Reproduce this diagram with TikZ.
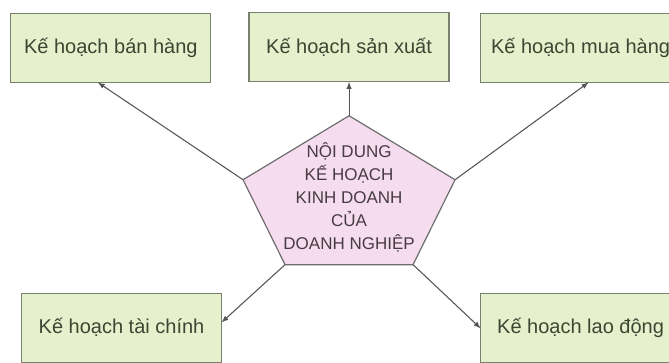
\documentclass[tikz,border=0pt]{standalone}
\usepackage{fontspec}
\setmainfont{Liberation Sans}
\usetikzlibrary{matrix,backgrounds}
\definecolor{planfill}{RGB}{230,240,205}
\definecolor{planline}{RGB}{120,128,110}
\definecolor{planink}{RGB}{60,70,50}
\definecolor{corefill}{RGB}{245,220,238}
\definecolor{coreline}{RGB}{110,110,110}
\definecolor{coreink}{RGB}{72,60,68}
\definecolor{arrowink}{RGB}{85,85,85}
\tikzset{
  plan/.style={draw=planline, line width=0.9pt, fill=planfill, text=planink,
    minimum width=150pt, minimum height=51.75pt, inner sep=0pt, outer sep=0pt,
    font=\fontsize{15}{18}\selectfont},
  core/.style={inner sep=0pt, text=coreink,
    font=\fontsize{12.75}{17.25}\selectfont},
}
\begin{document}
\begin{tikzpicture}[x=0.75pt, y=-0.75pt]
  \path[use as bounding box, clip] (0,0) rectangle (669,362);
  \matrix (m) [matrix of nodes, anchor=north west, inner sep=0pt,
    column sep=27.75pt, row sep=44pt] at (10,12)
  {
    |[plan]| Kế hoạch bán hàng &[-8pt] |[plan]| Kế hoạch sản xuất &[-5pt] |[plan]| Kế hoạch mua hàng \\
    & |[core]| \begin{tabular}{@{}c@{}}NỘI DUNG\\KẾ HOẠCH\\KINH DOANH\\CỦA\\DOANH NGHIỆP\end{tabular} & \\[-17pt]
    |[plan, xshift=8pt]| Kế hoạch tài chính & & |[plan]| Kế hoạch lao động \\
  };
  % pentagon behind the title
  \begin{scope}[on background layer]
    \draw[draw=coreline, fill=corefill, line width=0.9pt]
      ([yshift=62.6pt]m-2-2.center) coordinate (p1)
      -- ([xshift=-79.5pt,yshift=14.6pt]m-2-2.center) coordinate (p2)
      -- ([xshift=-48pt,yshift=-49.1pt]m-2-2.center) coordinate (p3)
      -- ([xshift=48pt,yshift=-49.1pt]m-2-2.center) coordinate (p4)
      -- ([xshift=79.5pt,yshift=14.6pt]m-2-2.center) coordinate (p5) -- cycle;
  \end{scope}
  \path[->, >=latex, arrowink, line width=0.8pt]
    (p2) edge ([xshift=-9.75pt]m-1-1.south)
    (p1) edge (p1 |- m-1-2.south)
    (p5) edge ([xshift=6pt]m-1-3.south)
    (p3) edge ([yshift=4pt]m-3-1.east)
    (p4) edge (m-3-3.west);
\end{tikzpicture}
\end{document}
